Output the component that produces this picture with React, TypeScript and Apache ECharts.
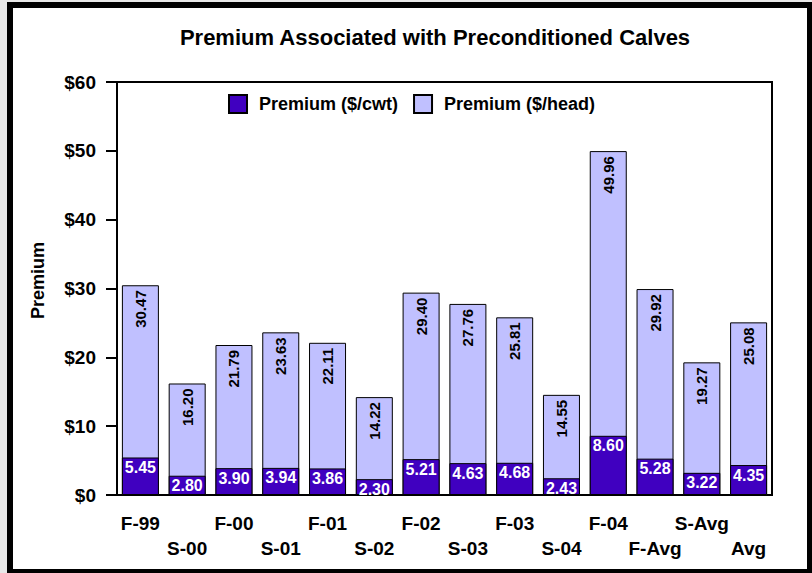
import React, { useEffect, useRef } from "react";
import * as echarts from "echarts";

const categories = ["F-99", "S-00", "F-00", "S-01", "F-01", "S-02", "F-02", "S-03", "F-03", "S-04", "F-04", "F-Avg", "S-Avg", "Avg"];
const premiumHead = [30.47, 16.2, 21.79, 23.63, 22.11, 14.22, 29.4, 27.76, 25.81, 14.55, 49.96, 29.92, 19.27, 25.08];
const premiumCwt = [5.45, 2.8, 3.9, 3.94, 3.86, 2.3, 5.21, 4.63, 4.68, 2.43, 8.6, 5.28, 3.22, 4.35];
const yTicks = [0, 10, 20, 30, 40, 50, 60];

const FONT = "Arial, 'Liberation Sans', Helvetica, sans-serif";

export default function App() {
  const ref = useRef<HTMLDivElement>(null);
  useEffect(() => {
    if (!ref.current) return;
    const chart = echarts.init(ref.current, undefined, { renderer: "svg" });
    chart.setOption({
      animation: false,
      backgroundColor: "#e8e8e8",
      textStyle: { fontFamily: FONT },
      graphic: [
        {
          type: "rect",
          z: -10,
          shape: { x: 10, y: 5, width: 800, height: 567 },
          style: { fill: "#fff", stroke: "#000", lineWidth: 6 },
        },
      ],
      title: {
        text: "Premium Associated with Preconditioned Calves",
        left: 435,
        textAlign: "center",
        top: 26,
        padding: 0,
        textStyle: { fontFamily: FONT, fontWeight: "bold", fontSize: 22, color: "#000" },
      },
      legend: {
        data: ["Premium ($/cwt)", "Premium ($/head)"],
        left: 228,
        top: 94,
        padding: 0,
        icon: "rect",
        itemWidth: 18,
        itemHeight: 18,
        itemGap: 15,
        textStyle: { fontFamily: FONT, fontWeight: "bold", fontSize: 18, color: "#000", padding: [0, 0, 0, 7] },
      },
      grid: {
        left: 117,
        right: 40,
        top: 82,
        bottom: 78,
        show: true,
        borderColor: "#000",
        borderWidth: 2,
        backgroundColor: "transparent",
      },
      xAxis: {
        type: "category",
        data: categories,
        axisLine: { lineStyle: { color: "#000", width: 2 } },
        axisTick: { alignWithLabel: true, length: 12, lineStyle: { color: "#000", width: 2 } },
        axisLabel: {
          interval: 0,
          margin: 16,
          fontFamily: FONT,
          fontWeight: "bold",
          fontSize: 19,
          color: "#000",
          lineHeight: 25,
          formatter: (v: string, i: number) => (i % 2 === 1 ? "\n" + v : v),
        },
      },
      yAxis: {
        type: "value",
        min: yTicks[0],
        max: yTicks[yTicks.length - 1],
        interval: 10,
        name: "Premium",
        nameLocation: "middle",
        nameGap: 70,
        nameTextStyle: { fontFamily: FONT, fontWeight: "bold", fontSize: 18, color: "#000", padding: [0, 0, 0, 16] },
        axisLine: { show: true, lineStyle: { color: "#000", width: 2 } },
        axisTick: { show: true, length: 11, lineStyle: { color: "#000", width: 2 } },
        splitLine: { show: false },
        axisLabel: {
          margin: 21,
          fontFamily: FONT,
          fontWeight: "bold",
          fontSize: 19,
          color: "#000",
          formatter: (v: number) => "$" + v,
        },
      },
      series: [
        {
          name: "Premium ($/head)",
          type: "bar",
          data: premiumHead,
          barWidth: 37,
          barGap: "-100%",
          itemStyle: { color: "#C0C0FF", borderColor: "#000", borderWidth: 1 },
          label: {
            show: true,
            position: "insideTop",
            rotate: 90,
            align: "right",
            verticalAlign: "middle",
            distance: 5,
            fontFamily: FONT,
            fontWeight: "bold",
            fontSize: 15,
            color: "#000",
            formatter: (p: any) => p.value.toFixed(2),
          },
        },
        {
          name: "Premium ($/cwt)",
          type: "bar",
          data: premiumCwt,
          barWidth: 37,
          barGap: "-100%",
          itemStyle: { color: "#4000C0", borderColor: "#000", borderWidth: 1 },
          label: {
            show: true,
            position: "insideTop",
            distance: 2,
            fontFamily: FONT,
            fontWeight: "bold",
            fontSize: 16,
            color: "#fff",
            formatter: (p: any) => p.value.toFixed(2),
          },
        },
      ],
    });
    return () => chart.dispose();
  }, []);
  return (
    <div style={{ position: "absolute", left: 0, top: 0, width: 812, height: 573 }}>
      <div ref={ref} style={{ width: 812, height: 573 }} />
    </div>
  );
}
